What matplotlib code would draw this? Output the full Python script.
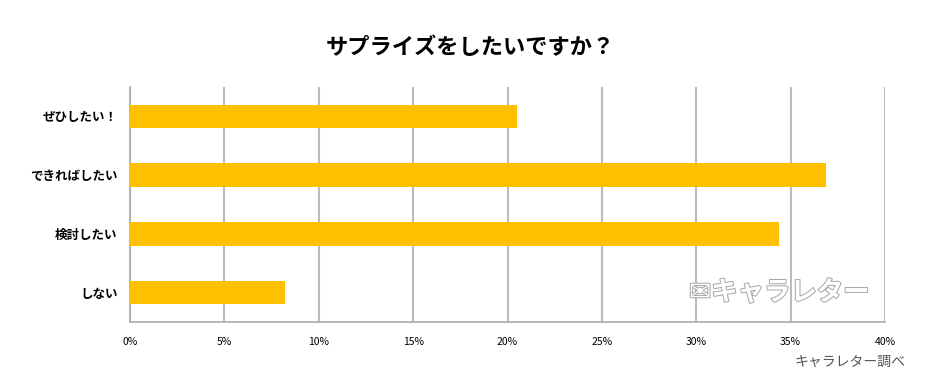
import matplotlib
matplotlib.use("Agg")
import matplotlib.pyplot as plt
import matplotlib.patheffects as pe

plt.rcParams['font.family'] = ['Noto Sans CJK JP', 'DejaVu Sans']

categories = ["ぜひしたい！", "できればしたい", "検討したい", "しない"]
values = [20.5, 36.9, 34.4, 8.2]
xticks = [0, 5, 10, 15, 20, 25, 30, 35, 40]
xtick_labels = ["0%", "5%", "10%", "15%", "20%", "25%", "30%", "35%", "40%"]
title = "サプライズをしたいですか？"
source = "キャラレター調べ"

fig = plt.figure(figsize=(9.4, 3.91), dpi=100)
ax = fig.add_axes([0.1383, 0.1765, 0.8032, 0.601])

ypos = list(range(len(categories)))
ax.barh(ypos, values, height=0.4, color="#FFC000", zorder=3)
ax.set_ylim(len(categories) - 0.5, -0.5)
ax.set_xlim(0, 40)
ax.set_yticks(ypos)
ax.set_yticklabels(categories, fontsize=9, fontweight='bold')
ax.set_xticks(xticks)
ax.set_xticklabels(xtick_labels, fontsize=7.5)
ax.tick_params(axis='both', length=0)
ax.tick_params(axis='x', pad=11)
ax.tick_params(axis='y', pad=9)
ax.grid(axis='x', color="#BBBBBB", linewidth=1.5, zorder=0)
for s in ['top', 'right']:
    ax.spines[s].set_visible(False)
for s in ['left', 'bottom']:
    ax.spines[s].set_color("#AAAAAA")
    ax.spines[s].set_linewidth(1.2)

fig.text(0.5, 0.878, title, ha='center', va='center', fontsize=16, fontweight='bold')
fig.text(0.963, 0.074, source, ha='right', va='center', fontsize=10, color="#555555")

# watermark
ax.text(0.86, 0.125, "✉キャラレター", transform=ax.transAxes, ha='center', va='center',
        fontsize=19, fontweight='bold', color='white', zorder=4,
        family=['Noto Sans CJK JP', 'DejaVu Sans'],
        path_effects=[pe.withStroke(linewidth=1.5, foreground="#AAAAAA")])

fig.savefig("out.png", dpi=100)
